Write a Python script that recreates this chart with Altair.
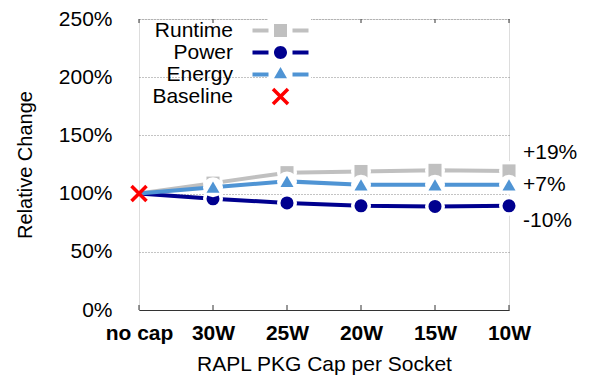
import altair as alt
import pandas as pd

categories = ["no cap", "30W", "25W", "20W", "15W", "10W"]
runtime = [100, 109, 118, 119, 120, 119.5]
power = [100, 95.5, 92, 89.5, 89, 89.5]
energy = [100, 105.5, 110.5, 107.5, 107.5, 107.5]
series_names = ["Runtime", "Power", "Energy"]
series_colors = ["#c0c0c0", "#00008f", "#4f94d4"]
series_shapes = ["square", "circle", "triangle-up"]
legend_names = ["Runtime", "Power", "Energy", "Baseline"]
baseline_color = "#ff0000"
end_labels = ["+19%", "-10%", "+7%"]
end_label_dy = [-18, 15, 0]
y_ticks = [0, 50, 100, 150, 200, 250]

FONT = "Liberation Sans"
W, H = 370, 291

rows = []
for name, vals in zip(series_names, [runtime, power, energy]):
    for c, v in zip(categories, vals):
        rows.append({"cat": c, "series": name, "value": v})
df = pd.DataFrame(rows)

# symbol paths: pixel geometry divided by r = sqrt(size)/2
SYM = 100
R = SYM ** 0.5 / 2


def p(v):
    return round(v / R, 4)


def seg(marker):
    t = 2.0
    return (f"M{p(-28)},{p(-t)} L{p(-12)},{p(-t)} L{p(-12)},{p(t)} L{p(-28)},{p(t)} Z "
            f"M{p(12)},{p(-t)} L{p(28)},{p(-t)} L{p(28)},{p(t)} L{p(12)},{p(t)} Z " + marker)


q = 6.5
sq_path = f"M{p(-q)},{p(-q)} L{p(q)},{p(-q)} L{p(q)},{p(q)} L{p(-q)},{p(q)} Z"
ci_path = (f"M{p(-q)},0 A{p(q)},{p(q)} 0 1,0 {p(q)},0 "
           f"A{p(q)},{p(q)} 0 1,0 {p(-q)},0 Z")
tri_path = f"M0,{p(-7.5)} L{p(-q)},{p(3.75)} L{p(q)},{p(3.75)} Z"
a, d = 7.5, 1.25
x_path = (f"M{p(-a+d)},{p(-a-d)} L{p(a+d)},{p(a-d)} L{p(a-d)},{p(a+d)} L{p(-a-d)},{p(-a+d)} Z "
          f"M{p(a+d)},{p(-a+d)} L{p(-a+d)},{p(a+d)} L{p(-a-d)},{p(a-d)} L{p(a-d)},{p(-a-d)} Z")
legend_paths = [seg(sq_path), seg(ci_path), seg(tri_path), x_path]
legend_colors = series_colors + [baseline_color]

x_enc = alt.X("cat:N", sort=categories,
              scale=alt.Scale(type="point", padding=0, domain=categories),
              axis=alt.Axis(title="RAPL PKG Cap per Socket", labelAngle=0,
                            labelFont=FONT, labelFontWeight="bold", labelFontSize=21,
                            labelColor="black", labelPadding=12, ticks=False,
                            domainColor="#333333", domainWidth=1,
                            titleFont=FONT, titleFontSize=21, titleFontWeight="normal",
                            titleColor="black", titlePadding=10, grid=False))
y_scale = alt.Scale(domain=[0, 250], nice=False, zero=True)
y_enc = alt.Y("value:Q", scale=y_scale,
              axis=alt.Axis(values=y_ticks, labelExpr="datum.value + '%'",
                            title="Relative Change", titleFont=FONT, titleFontSize=20,
                            titleFontWeight="normal", titleColor="black", titlePadding=23,
                            labelFont=FONT, labelFontSize=21, labelColor="black",
                            labelPadding=27, domain=False, ticks=False, tickSize=0,
                            grid=True, gridDash=[1, 2], gridColor="#888888", gridWidth=1))

base = alt.Chart(df)
layers = []
for name, col, shp in zip(series_names, series_colors, series_shapes):
    sd = base.transform_filter(alt.datum.series == name)
    layers.append(sd.mark_line(color=col, strokeWidth=4, strokeCap="butt").encode(x=x_enc, y=y_enc))
    pts = sd.transform_filter(alt.datum.cat != "no cap")
    layers.append(pts.mark_point(filled=True, shape="circle", size=400, color="white", opacity=1)
                  .encode(x=x_enc, y=y_enc))
    layers.append(pts.mark_point(filled=True, shape=shp, size=170, color=col, opacity=1)
                  .encode(x=x_enc, y=y_enc))

# baseline marker
bdf = pd.DataFrame({"cat": [categories[0]], "value": [runtime[0]]})
layers.append(alt.Chart(bdf).mark_point(filled=True, shape=x_path, size=SYM,
                                        color=baseline_color, opacity=1)
              .encode(x=x_enc, y=y_enc))

# end labels
for name, lab, dy in zip(series_names, end_labels, end_label_dy):
    ld = base.transform_filter((alt.datum.series == name) & (alt.datum.cat == categories[-1])) \
             .transform_calculate(label=f"'{lab}'")
    layers.append(ld.mark_text(align="left", baseline="middle", dx=14, dy=dy,
                               font=FONT, fontSize=21, color="black")
                  .encode(x=x_enc, y=y_enc, text="label:N"))

# axis ticks (inward)
tdf = pd.DataFrame({"cat": categories})
layers.append(alt.Chart(tdf).mark_rule(color="#333333", strokeWidth=1)
              .encode(x=x_enc, y=alt.value(H), y2=alt.value(H - 5)))
layers.append(alt.Chart(tdf).mark_rule(color="#333333", strokeWidth=1)
              .encode(x=x_enc, y=alt.value(0), y2=alt.value(4)))

# legend layer (no visible data)
leg = alt.Legend(title=None, orient="none", legendX=129, legendY=-1,
                 labelFont=FONT, labelFontSize=21, labelColor="black",
                 labelAlign="right", labelOffset={"expr": "-58"}, symbolSize=SYM,
                 symbolStrokeWidth=0, rowPadding=0,
                 fillColor="white", padding=2)
ldf = pd.DataFrame({"cat": ["no cap"] * 4, "series": legend_names, "value": [None] * 4})
layers.append(alt.Chart(ldf).mark_point(filled=True, size=SYM, opacity=1).encode(
    x=x_enc, y=y_enc,
    color=alt.Color("series:N", scale=alt.Scale(domain=legend_names, range=legend_colors), legend=leg),
    shape=alt.Shape("series:N", scale=alt.Scale(domain=legend_names, range=legend_paths), legend=leg),
))

chart = alt.layer(*layers).properties(
    width=W, height=H,
    autosize=alt.AutoSizeParams(type="none"),
    padding={"left": 131, "top": 11, "right": 70, "bottom": 68},
).configure_view(stroke=None).configure(font=FONT)

chart.save("out.html", embed_options={"renderer": "svg", "actions": False})
